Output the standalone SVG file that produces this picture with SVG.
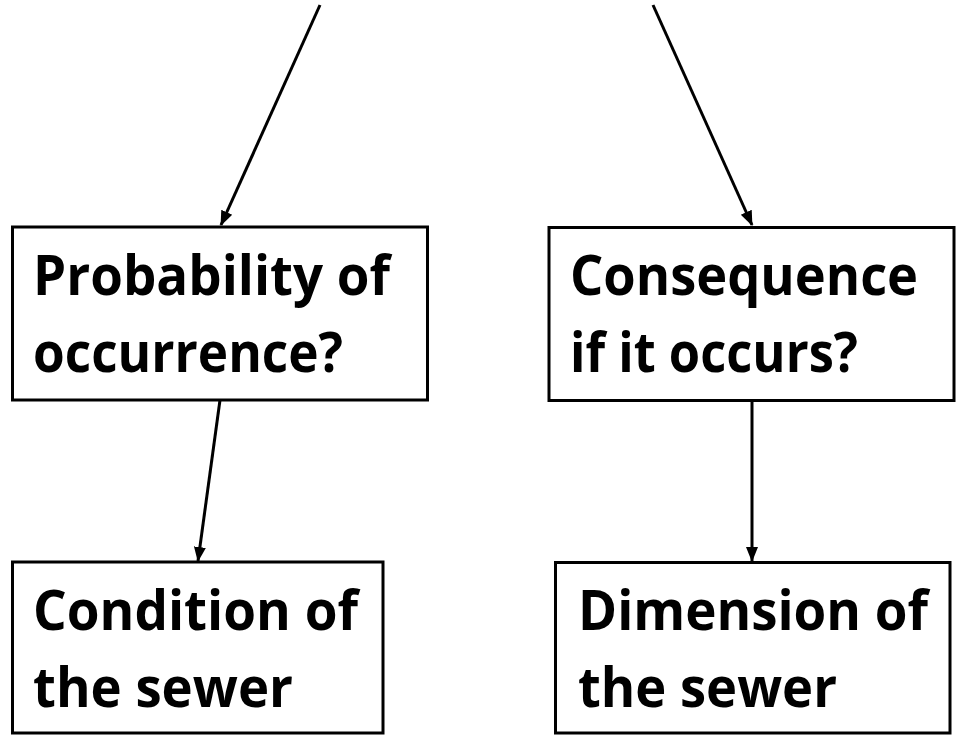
<svg xmlns="http://www.w3.org/2000/svg" width="956" height="735" viewBox="0 0 956 735">
<style>
.box{fill:#fff;stroke:#000;stroke-width:3}
.t{font-family:"Open Sans","Noto Sans","Liberation Sans",sans-serif;font-weight:bold;font-size:56px;fill:#000}
.c{stroke:#000;stroke-width:3;fill:none;marker-end:url(#ah)}
</style>
<defs>
<marker id="ah" markerWidth="16" markerHeight="14" refX="14" refY="7" orient="auto" markerUnits="userSpaceOnUse">
<path d="M0,1 L15,7 L0,13 z" fill="#000"/>
</marker>
</defs>
<rect width="956" height="735" fill="#fff"/>
<g id="connectors">
<line class="c" x1="320" y1="5" x2="221" y2="225"/>
<line class="c" x1="653" y1="5" x2="752" y2="225"/>
<line class="c" x1="220" y1="400" x2="198" y2="561"/>
<line class="c" x1="752" y1="401" x2="752" y2="561"/>
</g>
<g id="probability">
<rect class="box" x="12.5" y="227" width="415" height="173"/>
<text class="t" x="33" y="295" textLength="357" lengthAdjust="spacingAndGlyphs">Probability of</text>
<text class="t" x="33" y="372" textLength="310" lengthAdjust="spacingAndGlyphs">occurrence?</text>
</g>
<g id="consequence">
<rect class="box" x="549" y="227.5" width="405" height="173"/>
<text class="t" x="570" y="295" textLength="348" lengthAdjust="spacingAndGlyphs">Consequence</text>
<text class="t" x="570" y="372" textLength="288" lengthAdjust="spacingAndGlyphs">if it occurs?</text>
</g>
<g id="condition">
<rect class="box" x="12.5" y="562" width="370.5" height="171"/>
<text class="t" x="33" y="630" textLength="325" lengthAdjust="spacingAndGlyphs">Condition of</text>
<text class="t" x="33" y="707" textLength="260" lengthAdjust="spacingAndGlyphs">the sewer</text>
</g>
<g id="dimension">
<rect class="box" x="555.5" y="562.5" width="394.5" height="170.5"/>
<text class="t" x="578" y="630" textLength="350" lengthAdjust="spacingAndGlyphs">Dimension of</text>
<text class="t" x="578" y="707" textLength="259" lengthAdjust="spacingAndGlyphs">the sewer</text>
</g>
</svg>
